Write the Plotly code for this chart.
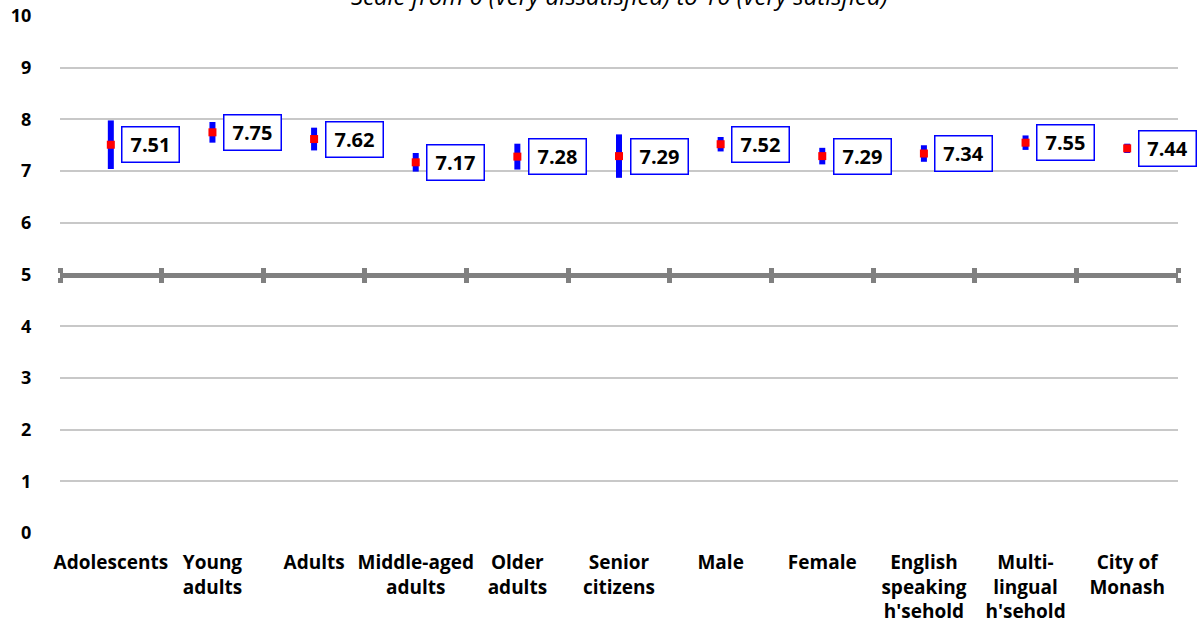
import plotly.graph_objects as go

categories = ["Adolescents", "Young<br>adults", "Adults", "Middle-aged<br>adults", "Older<br>adults",
              "Senior<br>citizens", "Male", "Female", "English<br>speaking<br>h'sehold",
              "Multi-<br>lingual<br>h'sehold", "City of<br>Monash"]
means = [7.51, 7.75, 7.62, 7.17, 7.28, 7.29, 7.52, 7.29, 7.34, 7.55, 7.44]
errors = [0.47, 0.20, 0.22, 0.18, 0.25, 0.42, 0.14, 0.16, 0.16, 0.14, 0.09]
y_ticks = list(range(0, 11))
title_text = "Scale from 0 (very dissatisfied) to 10 (very satisfied)"

FONT = "Open Sans"
xs = list(range(len(categories)))
bounds = [i - 0.5 for i in range(len(categories) + 1)]

fig = go.Figure()
fig.add_trace(go.Scatter(
    x=xs, y=means, mode="markers",
    marker=dict(symbol="square", size=8, color="#FF0000"),
    error_y=dict(type="data", array=errors, visible=True, thickness=6, width=0, color="#0000FF"),
    showlegend=False, hoverinfo="skip", cliponaxis=False,
))
# invisible traces to bind the midline axes
fig.add_trace(go.Scatter(x=xs, y=means, xaxis="x2", mode="markers", opacity=0,
                         showlegend=False, hoverinfo="skip"))
fig.add_trace(go.Scatter(x=xs, y=means, xaxis="x3", mode="markers", opacity=0,
                         showlegend=False, hoverinfo="skip"))

for x, m in zip(xs, means):
    fig.add_annotation(
        x=x, y=m, xref="x", yref="y", text=f"<b>{m:.2f}</b>", showarrow=False,
        xshift=40, font=dict(family=FONT, size=20, color="black"),
        bgcolor="white", bordercolor="#0000FF", borderwidth=1.5, borderpad=3,
        width=50, height=28, align="center", valign="middle",
    )

fig.add_annotation(
    x=0.5, y=1, xref="paper", yref="paper", text=f"<i>{title_text}</i>", showarrow=False,
    yanchor="middle", yshift=21, font=dict(family=FONT, size=24, color="black"),
)

mid_axis = dict(
    overlaying="x", anchor="free", position=0.5, range=[-0.5, len(categories) - 0.5],
    showline=True, linewidth=5, linecolor="#808080", showgrid=False, zeroline=False,
    ticks="outside", ticklen=5, tickwidth=5, tickcolor="#808080",
    tickmode="array", tickvals=bounds, showticklabels=False, fixedrange=True,
)

fig.update_layout(
    width=1197, height=633,
    margin=dict(l=60, r=19, t=16, b=100),
    paper_bgcolor="white", plot_bgcolor="white",
    font=dict(family=FONT, color="black"),
    xaxis=dict(
        range=[-0.5, len(categories) - 0.5], tickmode="array", tickvals=xs,
        ticktext=[f"<b>{c.replace('<br>', '</b><br><b>')}</b>" for c in categories],
        showgrid=False, zeroline=False, showline=False, ticks="outside", ticklen=12,
        tickcolor="rgba(0,0,0,0)", tickfont=dict(family=FONT, size=19, color="black"),
        tickangle=0, automargin=False,
    ),
    xaxis2=dict(side="bottom", **mid_axis),
    xaxis3=dict(side="top", **mid_axis),
    yaxis=dict(
        range=[0, 10], tickmode="array", tickvals=y_ticks, ticktext=[f"<b>{v}</b>" for v in y_ticks],
        showgrid=True, gridcolor="#C8C8C8", gridwidth=1.5, zeroline=False, showline=False,
        ticks="outside", ticklen=24, tickcolor="rgba(0,0,0,0)",
        tickfont=dict(family=FONT, size=18, color="black"), automargin=False,
    ),
)

fig.write_html("out.html", post_script="document.body.style.margin='0';",
               config={"displayModeBar": False})
